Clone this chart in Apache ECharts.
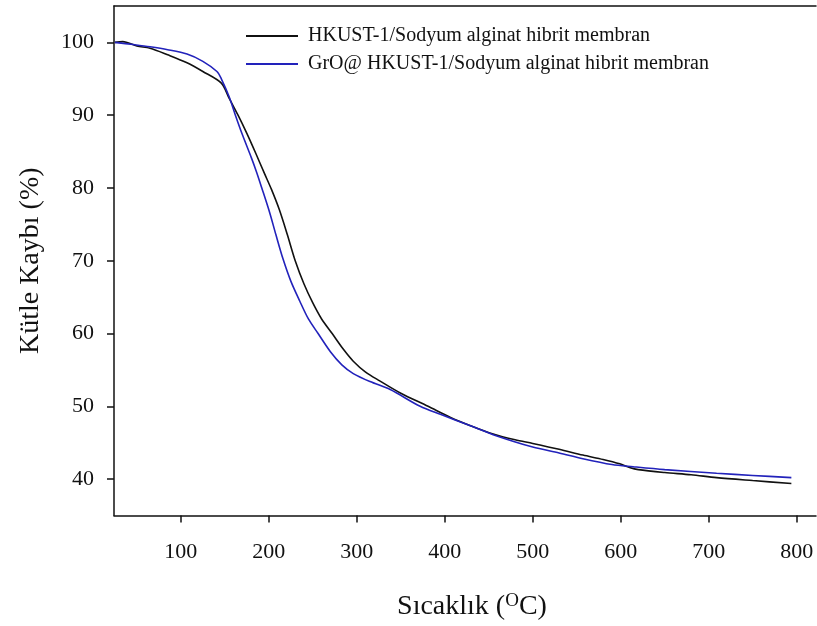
<!DOCTYPE html>
<html>
<head>
<meta charset="utf-8">
<script src="https://cdn.jsdelivr.net/npm/echarts@6/dist/echarts.min.js"></script>
<style>html,body{margin:0;padding:0;background:#fff;}#c{width:817px;height:626px;}</style>
</head>
<body>
<div id="c"></div>
<script>
const seriesNames = ['HKUST-1/Sodyum alginat hibrit membran', 'GrO@ HKUST-1/Sodyum alginat hibrit membran'];
const blackT = [25,34,50,65,85,107,125,146,155,165,175,185,195,203,212,221,230,240,250,260,272,285,296,310,326,350,381,406,430,455,480,500,530,557,580,599,610,620,650,680,709,750,794];
const blackY = [100.0,100.1,99.5,99.2,98.3,97.2,96.0,94.4,92.3,90.0,87.5,84.8,82.0,79.8,77.0,73.6,70.0,66.8,64.2,62.0,60.0,57.8,56.2,54.7,53.5,51.8,50.0,48.5,47.3,46.2,45.4,44.9,44.1,43.3,42.7,42.1,41.6,41.3,40.9,40.6,40.2,39.8,39.4];
const blueT = [25,46,65,85,107,125,141,146,155,162,170,180,186,192,201,208,216,225,235,245,256,270,283,296,315,338,372,395,430,455,500,530,557,590,614,650,709,750,794];
const blueY = [100.0,99.7,99.4,99.0,98.4,97.4,96.0,95.0,92.5,90.0,87.3,84.2,82.2,80.0,76.6,73.6,70.3,67.2,64.5,62.0,60.0,57.5,55.7,54.5,53.4,52.3,50.0,48.9,47.3,46.1,44.4,43.6,42.8,42.0,41.7,41.3,40.8,40.5,40.2];
const xTicks = [100,200,300,400,500,600,700,800];
const yTicks = [40,50,60,70,80,90,100];

const font = '"Liberation Serif", "Times New Roman", serif';
const zip = (a, b) => a.map((v, i) => [v, b[i]]);
const chart = echarts.init(document.getElementById('c'), null, {renderer: 'canvas'});
chart.setOption({
  animation: false,
  backgroundColor: '#fff',
  textStyle: {fontFamily: font},
  grid: {left: 114, top: 6, right: 1, bottom: 109, containLabel: false},
  legend: {
    orient: 'vertical', left: 241, top: 21, itemGap: 8,
    itemWidth: 52, itemHeight: 2, icon: 'rect',
    textStyle: {fontFamily: font, fontSize: 20, color: '#111', padding: [0,0,0,5]},
    data: seriesNames
  },
  xAxis: [{
    type: 'value', min: 24, max: 822,
    axisLine: {show: true, lineStyle: {color: '#111', width: 1.5}},
    axisTick: {show: true, inside: false, length: 7, customValues: xTicks, lineStyle: {color: '#111', width: 1.5}},
    axisLabel: {show: true, customValues: xTicks, margin: 26, fontFamily: font, fontSize: 22, color: '#111'},
    splitLine: {show: false},
    name: 'Sıcaklık ({sup|O}C)', nameLocation: 'middle', nameGap: 76,
    nameTextStyle: {fontFamily: font, fontSize: 28, color: '#111', padding: [0,0,0,14],
      rich: {sup: {fontFamily: font, fontSize: 19, verticalAlign: 'top', padding: [0,0,12,0], color: '#111'}}}
  }, {
    type: 'value', min: 24, max: 822, position: 'top',
    axisLine: {show: true, lineStyle: {color: '#111', width: 1.5}},
    axisTick: {show: false}, axisLabel: {show: false}, splitLine: {show: false}
  }],
  yAxis: {
    type: 'value', min: 35, max: 105,
    axisLine: {show: true, lineStyle: {color: '#111', width: 1.5}},
    axisTick: {show: true, inside: false, length: 7, customValues: yTicks, lineStyle: {color: '#111', width: 1.5}},
    axisLabel: {show: true, customValues: yTicks, margin: 20, fontFamily: font, fontSize: 22, color: '#111'},
    splitLine: {show: false},
    name: 'Kütle Kaybı (%)', nameLocation: 'middle', nameGap: 69, nameRotate: 90,
    nameTextStyle: {fontFamily: font, fontSize: 28, color: '#111'}
  },
  series: [{
    name: seriesNames[0], type: 'line', smooth: 0.3, showSymbol: false,
    lineStyle: {color: '#111', width: 1.6}, itemStyle: {color: '#111'},
    data: zip(blackT, blackY)
  }, {
    name: seriesNames[1], type: 'line', smooth: 0.3, showSymbol: false,
    lineStyle: {color: '#2222bb', width: 1.6}, itemStyle: {color: '#2222bb'},
    data: zip(blueT, blueY)
  }]
});
</script>
</body>
</html>
